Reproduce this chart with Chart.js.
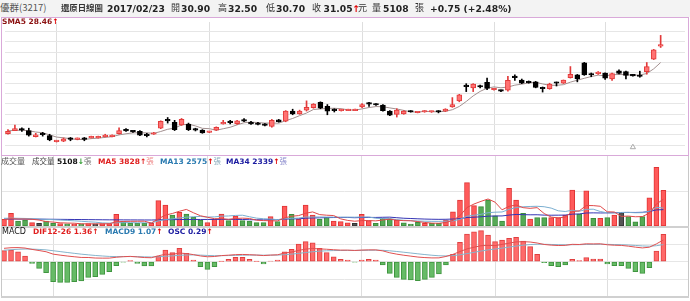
<!DOCTYPE html>
<html><head><meta charset="utf-8">
<script src="https://cdn.jsdelivr.net/npm/chart.js@4.4.1/dist/chart.umd.min.js"></script>
<style>
*{margin:0;padding:0;box-sizing:border-box}
body{width:690px;height:301px;overflow:hidden;position:relative;background:#fff;font-family:"DejaVu Sans",sans-serif}
canvas{position:absolute;left:0}
.t{position:absolute;white-space:nowrap;line-height:1}
.c{font-family:"Noto Sans CJK TC",sans-serif}
.b{font-weight:bold}
.h{font-size:9px;color:#333;top:3px}
.n{font-size:9.2px;font-weight:bold;color:#222;top:3.5px}
.box{position:absolute;pointer-events:none}
</style></head><body>
<div class="box" style="left:0;top:0;width:690px;height:17px;background:#f3f3f3"></div>
<canvas id="cP" width="690" height="138" style="top:17px"></canvas>
<canvas id="cV" width="690" height="71" style="top:156px"></canvas>
<canvas id="cM" width="690" height="68" style="top:228px"></canvas>
<div class="box" style="left:1px;top:17px;width:688px;height:139px;border:1px solid #d9a9d9"></div>
<div class="box" style="left:1px;top:156px;width:1px;height:141px;background:#c8c8c8"></div>
<div class="box" style="left:688px;top:156px;width:1px;height:141px;background:#c8c8c8"></div>
<div class="box" style="left:1px;top:226px;width:688px;height:2px;background:#d0d0d0"></div>
<div class="box" style="left:1px;top:296px;width:688px;height:2px;background:#d0d0d0"></div>

<div class="t c h" style="left:0;font-size:9.5px;color:#555">優群(3217)</div>
<div class="t c h b" style="left:61px;font-size:8.4px">還原日線圖</div>
<div class="t n" style="left:107px">2017/02/23</div>
<div class="t c h" style="left:171px">開</div><div class="t n" style="left:181px">30.90</div>
<div class="t c h" style="left:218px">高</div><div class="t n" style="left:228px">32.50</div>
<div class="t c h" style="left:266px">低</div><div class="t n" style="left:276px">30.70</div>
<div class="t c h" style="left:312px">收</div><div class="t n" style="left:323.5px">31.05</div>
<div class="t n" style="left:352.5px;color:#e00000">↑</div><div class="t c h" style="left:358px">元</div>
<div class="t c h" style="left:372px">量</div><div class="t n" style="left:383px">5108</div><div class="t c h" style="left:415px">張</div>
<div class="t n" style="left:430px">+0.75 (+2.48%)</div>

<div class="t b" style="left:2px;top:18px;font-size:7.5px;color:#8b1010">SMA5 28.46<span style="color:#e00000">↑</span></div>

<div class="t c" style="left:1px;top:157px;font-size:8px;color:#555">成交量</div>
<div class="t" style="left:32px;top:157px;font-size:7.5px;color:#444"><span class="c">成交量</span> <b style="color:#111">5108</b><b style="color:#2a9a2a">↓</b><span class="c" style="color:#777">張</span></div>
<div class="t" style="left:98px;top:157px;font-size:7.5px;color:#e02020"><b>MA5 3828</b><b>↑</b><span class="c" style="color:#e88">張</span></div>
<div class="t" style="left:160px;top:157px;font-size:7.5px;color:#2a7ab0"><b>MA13 2575</b><b style="color:#e00000">↑</b><span class="c" style="color:#8ab">張</span></div>
<div class="t" style="left:226px;top:157px;font-size:7.5px;color:#1a1aa0"><b>MA34 2339</b><b style="color:#e00000">↑</b><span class="c" style="color:#88c">張</span></div>

<div class="t" style="left:2px;top:228px;font-size:8px;color:#111">MACD</div>
<div class="t b" style="left:33px;top:228px;font-size:7.5px;color:#e02020">DIF12-26 1.36<span>↑</span></div>
<div class="t b" style="left:105px;top:228px;font-size:7.5px;color:#2a7ab0">MACD9 1.07<span style="color:#e00000">↑</span></div>
<div class="t b" style="left:168px;top:228px;font-size:7.5px;color:#1a1aa0">OSC 0.29<span style="color:#e00000">↑</span></div>

<script>
const dates = ['10/05','10/06','10/07','10/11','10/12','10/13','10/14','10/17','10/18','10/19','10/20','10/21','10/24','10/25','10/26','10/27','10/28','10/31',
'11/01','11/02','11/03','11/04','11/07','11/08','11/09','11/10','11/11','11/14','11/15','11/16','11/17','11/18','11/21','11/22','11/23','11/24','11/25','11/28','11/29','11/30',
'12/01','12/02','12/05','12/06','12/07','12/08','12/09','12/12','12/13','12/14','12/15','12/16','12/19','12/20','12/21','12/22','12/23','12/26','12/27','12/28','12/29','12/30',
'01/03','01/04','01/05','01/06','01/09','01/10','01/11','01/12','01/13','01/16','01/17','01/18','01/19','01/20','01/23','01/24',
'02/02','02/03','02/06','02/07','02/08','02/09','02/10','02/13','02/14','02/15','02/16','02/17','02/18','02/20','02/21','02/22','02/23'];

const open = [17.85,18.33,18.54,18.33,17.43,17.85,17.57,16.67,16.74,17.09, 17.02,17.09,17.23,17.23,17.43,17.43,17.85,18.33,18.20,18.20, 17.64,17.78,18.68,19.99,19.57,19.16,19.30,18.47,18.40,18.06, 18.40,19.30,19.57,19.37,19.85,19.57,19.44,19.16,18.95,19.92, 19.71,21.23,20.82,21.37,21.72,22.55,21.92,21.37,21.30,21.30, 21.30,21.85,22.41,22.27,22.13,21.23,20.75,20.82,21.23,20.98, 21.09,21.09,21.16,21.23,21.85,22.75,24.96,24.69,24.89,25.51, 24.41,24.27,24.34,26.27,25.86,25.65,25.58,24.62,24.55,25.45, 25.38,26.21,26.62,28.42,26.76,26.80,26.90,26.00,27.24,27.10, 26.52,26.45,27.08,28.97,30.90];
const high = [18.47,19.16,18.75,18.68,17.92,18.06,17.78,16.88,17.23,17.30, 17.23,17.30,17.50,17.50,17.78,17.71,18.75,18.61,18.33,18.33, 17.92,18.06,19.78,20.27,19.85,20.13,19.44,18.68,18.47,18.22, 18.88,19.85,19.85,19.85,20.13,19.71,19.57,19.37,19.99,19.99, 21.30,21.51,21.37,22.75,22.34,22.61,22.20,21.58,21.51,21.51, 21.51,22.34,22.55,22.34,22.20,21.30,21.58,21.30,21.30,21.09, 21.30,21.23,21.30,21.58,23.24,23.72,25.31,25.31,25.10,26.16, 24.62,24.34,26.41,26.62,26.00,25.72,25.65,24.82,25.38,25.56, 25.86,27.86,26.69,28.48,26.90,27.10,26.94,26.90,27.38,27.17, 26.69,27.17,28.46,30.42,32.50];
const low = [17.78,18.30,18.20,17.50,17.37,17.50,16.81,16.62,16.67,16.81, 16.95,16.81,17.20,17.20,17.37,17.37,17.78,18.20,18.06,17.57, 17.37,17.75,18.61,19.44,18.33,19.09,18.33,18.27,17.92,18.03, 18.33,19.28,19.30,19.23,19.64,19.23,19.16,19.02,18.82,19.57, 19.64,20.68,20.75,21.23,21.65,21.58,20.68,21.09,21.23,21.30, 21.28,21.72,21.92,22.06,21.23,20.54,20.34,20.75,21.07,20.96, 21.05,21.03,20.96,21.16,21.79,22.61,24.13,24.13,24.69,24.41, 24.34,24.13,24.20,25.79,25.31,25.38,24.69,24.06,24.48,24.96, 25.34,26.14,25.58,26.55,26.34,26.69,25.93,25.79,26.76,26.00, 26.41,26.27,26.72,28.90,30.70];
const close = [18.20,18.61,18.40,17.64,17.71,17.71,16.95,16.81,17.09,17.02, 17.09,17.02,17.43,17.43,17.57,17.64,18.33,18.27,18.13,17.64, 17.57,17.92,19.71,19.78,18.47,19.99,18.47,18.40,17.99,18.20, 18.82,19.57,19.51,19.78,19.74,19.30,19.23,19.09,19.85,19.64, 21.23,20.82,21.23,21.79,22.27,21.65,21.23,21.30,21.40,21.44, 21.44,22.20,22.27,22.13,21.30,20.61,21.37,21.23,21.09,21.05, 21.19,21.16,21.09,21.51,22.20,23.65,24.87,25.24,24.82,24.62, 24.58,24.20,25.79,26.21,25.38,25.45,24.75,24.55,25.24,25.38, 25.86,26.69,26.00,26.62,26.60,26.90,26.14,26.83,26.83,26.55, 26.48,26.38,27.86,30.35,31.05];
const prevClose = 18.00;
const sma5 = [18.30,18.35,18.38,18.30,18.11,18.01,17.68,17.36,17.25,17.12, 16.99,17.01,17.13,17.20,17.31,17.42,17.68,17.85,17.99,18.00, 17.99,17.91,18.19,18.52,18.69,19.17,19.28,19.02,18.66,18.61, 18.38,18.60,18.82,19.18,19.49,19.59,19.52,19.44,19.45,19.42, 19.81,20.13,20.55,20.94,21.47,21.55,21.63,21.65,21.58,21.41, 21.37,21.56,21.76,21.90,21.87,21.70,21.54,21.33,21.12,21.07, 21.19,21.14,21.12,21.20,21.43,21.92,22.66,23.49,24.16,24.64, 24.83,24.70,24.81,25.09,25.24,25.41,25.52,25.27,25.07,25.07, 25.16,25.54,25.83,26.11,26.37,26.58,26.47,26.64,26.68,26.65, 26.57,26.61,26.82,27.52,28.46];

const volume = [950,1810,710,860,480,380,710,380,330,300, 280,300,330,300,330,330,1670,620,380,380, 380,380,3620,3000,1570,1950,1710,1240,860,480, 950,1710,760,1430,760,710,480,480,1330,620, 2860,1670,950,3000,1570,950,1240,710,620,470, 380,1670,760,380,1100,1000,860,470,290,530, 380,380,380,860,2040,3720,6190,2900,2760,3720, 1470,710,5390,3720,1810,1000,1190,1190,1190,1190, 1570,5140,1710,5040,1100,1100,1190,1570,1900,1330, 610,1330,4040,8390,5108];
const volMA5 = [900,1050,1000,1000,962,848,628,562,456,420, 400,318,308,302,308,318,592,650,666,676, 686,428,1028,1552,1790,2104,2370,1894,1466,1248, 1048,1048,952,1066,1122,1074,828,772,752,724, 1154,1392,1486,1820,2010,1628,1542,1494,1018,798, 684,770,780,732,858,982,820,762,744,630, 506,410,392,506,808,1476,2638,3142,3522,3858, 3408,2312,2810,3002,2620,2526,2622,1782,1276,1152, 1266,2056,2160,2930,2912,2818,2028,2000,1372,1418, 1320,1348,1842,3140,3828];
const volMA13 = [1100,1120,1100,1080,1050,1000,950,900,850,800, 740,680,602,552,438,408,471,482,482,456, 456,460,715,925,1022,1147,1255,1325,1366,1275, 1300,1402,1432,1512,1542,1318,1124,1040,992,908, 1033,1095,1132,1289,1278,1293,1278,1275,1268,1267, 1259,1285,1296,1105,1062,1065,901,816,765,711, 685,667,660,697,725,953,1400,1538,1674,1894, 1971,2003,2377,2634,2744,2792,2817,2752,2557,2172, 2070,2253,2098,2373,2403,2073,1878,1860,1929,1940, 1895,1906,2125,2650,2575];
const volMA34 = [1000,995,990,985,980,975,970,960,950,940, 930,920,910,900,890,880,880,875,870,865, 860,855,880,900,910,920,930,935,935,935, 935,940,940,937,932,899,893,881,906,914, 977,1015,1033,1112,1150,1169,1196,1208,1217,1221, 1183,1214,1225,1225,1246,1264,1183,1109,1071,1029, 990,965,951,962,994,1053,1213,1256,1315,1404, 1433,1439,1559,1650,1619,1599,1606,1553,1542,1549, 1559,1689,1721,1856,1877,1860,1873,1908,1931,1941, 1934,1959,2069,2300,2339];

const osc = [0.117,0.124,0.106,0.061,-0.018,-0.071,-0.117,-0.213,-0.220,-0.220, -0.213,-0.205,-0.167,-0.160,-0.135,-0.106,-0.043,-0.005,0.011,-0.018, -0.046,-0.046,0.061,0.124,0.096,0.141,0.088,0.018,-0.053,-0.082, -0.053,0.003,0.024,0.046,0.046,0.024,0.002,-0.024,0.005,0.018, 0.106,0.131,0.188,0.213,0.202,0.141,0.096,0.053,0.024,0.018, -0.003,0.018,0.024,0.018,-0.035,-0.124,-0.167,-0.188,-0.195,-0.202, -0.188,-0.167,-0.131,-0.035,0.078,0.205,0.295,0.319,0.330,0.284, 0.213,0.231,0.248,0.259,0.220,0.160,0.078,-0.011,-0.043,-0.053, -0.035,0.024,0.011,0.043,0.029,0.029,-0.024,-0.043,-0.043,-0.071, -0.106,-0.124,-0.064,0.114,0.29];
const dif = [0.836,0.874,0.882,0.852,0.768,0.697,0.622,0.473,0.411,0.356, 0.310,0.267,0.263,0.230,0.222,0.224,0.277,0.313,0.332,0.298, 0.259,0.247,0.369,0.463,0.459,0.539,0.508,0.442,0.358,0.308, 0.324,0.381,0.408,0.441,0.453,0.437,0.415,0.383,0.413,0.431, 0.545,0.603,0.707,0.785,0.825,0.799,0.778,0.748,0.725,0.724, 0.702,0.727,0.739,0.738,0.676,0.556,0.471,0.403,0.347,0.290, 0.257,0.236,0.239,0.326,0.458,0.636,0.800,0.904,0.997,1.022, 1.004,1.080,1.159,1.235,1.251,1.231,1.169,1.077,1.034,1.011, 1.020,1.085,1.075,1.118,1.111,1.118,1.059,1.029,1.018,0.972, 0.910,0.861,0.905,1.112,1.36];
const macd9 = [0.719,0.750,0.776,0.791,0.786,0.768,0.739,0.686,0.631,0.576, 0.523,0.472,0.430,0.390,0.357,0.330,0.320,0.318,0.321,0.316, 0.305,0.293,0.308,0.339,0.363,0.398,0.420,0.424,0.411,0.390, 0.377,0.378,0.384,0.395,0.407,0.413,0.413,0.407,0.408,0.413, 0.439,0.472,0.519,0.572,0.623,0.658,0.682,0.695,0.701,0.706, 0.705,0.709,0.715,0.720,0.711,0.680,0.638,0.591,0.542,0.492, 0.445,0.403,0.370,0.361,0.380,0.431,0.505,0.585,0.667,0.738, 0.791,0.849,0.911,0.976,1.031,1.071,1.091,1.088,1.077,1.064, 1.055,1.061,1.064,1.075,1.082,1.089,1.083,1.072,1.061,1.043, 1.016,0.985,0.969,0.998,1.07];

const markIdx = 90;      // small event marker under the candles
const markPrice = 15.85;

// ---------- shared configuration ----------
const monthStarts = dates.map((d,i)=> (i>0 && d.slice(0,2)!==dates[i-1].slice(0,2)) ? i : -1).filter(i=>i>=0);
const X0 = -0.4277, X1 = 97.506;
function xScale(){
  return {type:'linear', min:X0, max:X1, offset:false,
    ticks:{display:false}, border:{display:false},
    grid:{drawTicks:false, color:'#dedede', lineWidth:1},
    afterBuildTicks:a=>{a.ticks = monthStarts.map(v=>({value:v}));}};
}
function yScale(min,max,ticks,extra){
  return Object.assign({min:min, max:max, ticks:{display:false}, border:{display:false},
    grid:{drawTicks:false, color:'#e6e6e6', lineWidth:1},
    afterBuildTicks:a=>{a.ticks = ticks.map(v=>({value:v}));}}, extra||{});
}
const baseOpts = {responsive:false, animation:false, devicePixelRatio:1,
  plugins:{legend:{display:false}, tooltip:{enabled:false}}, events:[]};
const pts = arr => arr.map((v,i)=>({x:i,y:v}));

// ---------- price panel ----------
const pMin = 15.434, pMax = 34.494, pStep = 1.5442;
const pTicks = []; for(let k=0;k<12;k++) pTicks.push(33.113 - k*pStep);
const up = close.map((c,i)=> c >= open[i]);
const RED='#e23a3a', REDF='#ff7373';
new Chart(document.getElementById('cP'), {
  type:'bar',
  data:{datasets:[
    {type:'line', data:pts(sma5), borderColor:'#a39090', borderWidth:1, pointRadius:0, tension:0, order:3},
    {data:high.map((h,i)=>({x:i,y:[low[i],h]})), backgroundColor:up.map(u=>u?RED:'#000'),
      barThickness:1, grouped:false, order:2},
    {data:open.map((o,i)=>({x:i,y:[o,close[i]]})), backgroundColor:up.map(u=>u?REDF:'#000'),
      borderColor:up.map(u=>u?RED:'#000'), borderWidth:1, borderSkipped:false,
      barThickness:5, minBarLength:1.5, grouped:false, order:1},
    {type:'scatter', data:[{x:markIdx,y:markPrice}], pointStyle:'triangle', pointRadius:3,
      borderColor:'#aaa', backgroundColor:'#fff', borderWidth:1, order:0}
  ]},
  options:Object.assign({}, baseOpts, {layout:{padding:{left:1,right:2,top:0,bottom:0}},
    scales:{x:xScale(), y:yScale(pMin,pMax,pTicks)}})
});

// ---------- volume panel ----------
const volColor = close.map((c,i)=>{const p = i?close[i-1]:prevClose; return c>p?'#ff5a5a':(c<p?'#55aa55':'#555');});
const volBorder = close.map((c,i)=>{const p = i?close[i-1]:prevClose; return c>p?'#e03535':(c<p?'#3c8c3c':'#333');});
new Chart(document.getElementById('cV'), {
  type:'bar',
  data:{datasets:[
    {type:'line', data:pts(volMA5), borderColor:'#e04848', borderWidth:1, pointRadius:0, order:0},
    {type:'line', data:pts(volMA13), borderColor:'#7aaed0', borderWidth:1, pointRadius:0, order:0},
    {type:'line', data:pts(volMA34), borderColor:'#3434b4', borderWidth:1, pointRadius:0, order:0},
    {data:pts(volume), backgroundColor:volColor, borderColor:volBorder, borderWidth:1, borderSkipped:false,
      barThickness:5, order:1}
  ]},
  options:Object.assign({}, baseOpts, {layout:{padding:{left:1,right:2,top:0,bottom:1}},
    scales:{x:xScale(), y:yScale(0,10000,[5000])}})
});

// ---------- MACD panel ----------
const oscMax = 0.3585, oscMin = -0.3649, lnMax = 2.106, lnMin = -2.144;
new Chart(document.getElementById('cM'), {
  type:'bar',
  data:{datasets:[
    {type:'line', data:pts(dif), borderColor:'#e05050', borderWidth:1, pointRadius:0, yAxisID:'yL', order:0},
    {type:'line', data:pts(macd9), borderColor:'#86b4cc', borderWidth:1, pointRadius:0, yAxisID:'yL', order:0},
    {data:pts(osc), backgroundColor:osc.map(v=>v>=0?'#ff6a6a':'#66bb66'),
      borderColor:osc.map(v=>v>=0?'#e04040':'#3f953f'), borderWidth:1, borderSkipped:false,
      barThickness:5, yAxisID:'yO', order:1}
  ]},
  options:Object.assign({}, baseOpts, {layout:{padding:{left:1,right:2,top:0,bottom:0}},
    scales:{x:xScale(), yO:yScale(oscMin,oscMax,[-0.1846,0,0.1846],{position:'left'}),
      yL:{min:lnMin, max:lnMax, display:false}}})
});
</script>
</body></html>
